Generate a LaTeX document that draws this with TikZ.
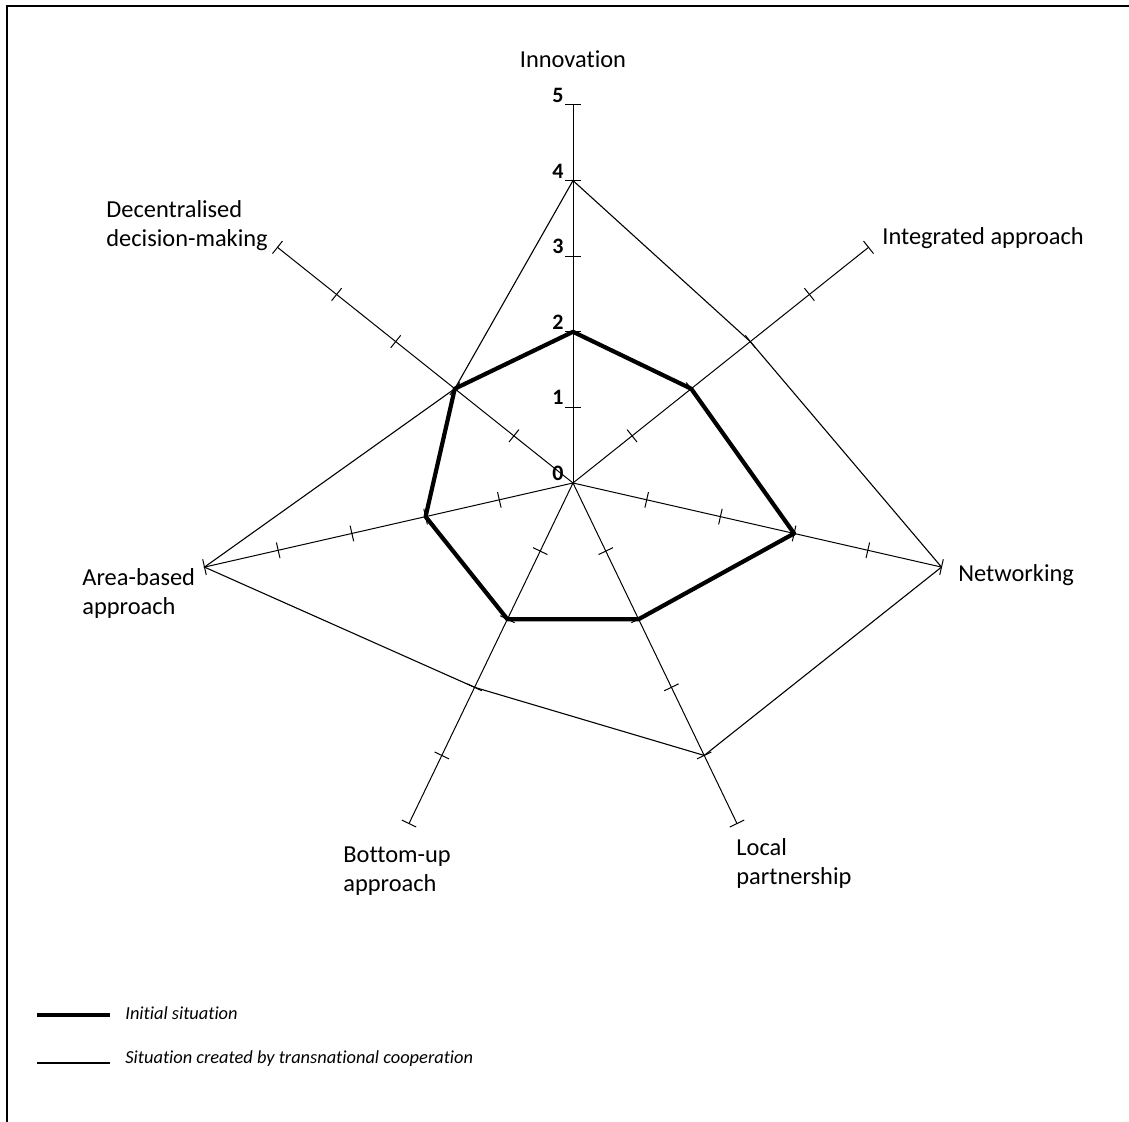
\documentclass[tikz,border=0pt]{standalone}
\usepackage{fontspec}
\setmainfont{Carlito}[Ligatures=CommonOff]
\begin{document}
\begin{tikzpicture}[x=0.5pt,y=0.5pt,
    axis/.style={line width=0.5pt},
    initial/.style={line width=2.1pt,line join=round},
    created/.style={line width=0.55pt},
    lbl/.style={font=\fontsize{12.2}{14.5}\selectfont,inner sep=0pt,align=left},
    num/.style={font=\fontsize{11}{12}\selectfont\bfseries,inner sep=0pt,anchor=south east},
    key/.style={font=\fontsize{9.2}{11}\selectfont\itshape,inner sep=0pt,anchor=west}]
  \useasboundingbox (-573,-639) rectangle (556,483);
  % frame, open at the right and bottom
  \draw[line width=0.7pt] (556,477) -| (-566,-639);
  \def\r{75.6}
  \coordinate (o) at (0,0);
  % the seven axes with their ticks
  \foreach \i [evaluate=\i as \ang using {90-(\i-1)*360/7}] in {1,...,7}{
    \coordinate (a\i) at (\ang:5*\r);
    \draw[axis] (o)--(a\i);
    \foreach \k in {1,...,5}{
      \draw[axis,rotate=\ang] (\k*\r,-8)--(\k*\r,8);
    }
  }
  \foreach \k in {0,...,5}{
    \node[num] (n\k) at (-9,\k*\r+2) {\k};
  }
  % scores
  \foreach \i/\v in {1/2,2/2,3/3,4/2,5/2,6/2,7/2}{
    \coordinate (p\i) at ({90-(\i-1)*360/7}:\v*\r);
  }
  \foreach \i/\v in {1/4,2/3,3/5,4/4,5/3,6/5,7/2}{
    \coordinate (q\i) at ({90-(\i-1)*360/7}:\v*\r);
  }
  \draw[created] (q1)--(q2)--(q3)--(q4)--(q5)--(q6)--(q7)--cycle;
  \draw[initial] (p1)--(p2)--(p3)--(p4)--(p5)--(p6)--(p7)--cycle;
  % axis labels
  \node[lbl,anchor=base] (inn) at (0,415) {Innovation};
  \node[lbl,anchor=base west] (int) at (309,238) {Integrated approach};
  \node[lbl,anchor=base west] (net) at (385,-99) {Networking};
  \node[lbl,anchor=north west] (loc) at (163,-355) {Local\\partnership};
  \node[lbl,anchor=north west] (bot) at (-230,-363) {Bottom-up\\approach};
  \node[lbl,anchor=north west] (are) at (-491,-85) {Area-based\\approach};
  \node[lbl,anchor=north west] (dec) at (-467,283) {Decentralised\\decision-making};
  % key
  \coordinate (k1a) at (-536,-532);
  \coordinate (k1b) at (-463,-532);
  \coordinate (k2a) at (-536,-580);
  \coordinate (k2b) at (-463,-580);
  \draw[initial] (k1a)--(k1b);
  \draw[line width=0.65pt] (k2a)--(k2b);
  \node[key] (k1) at (-448,-530) {Initial situation};
  \node[key] (k2) at (-448,-576) {Situation created by transnational cooperation};
\end{tikzpicture}
\end{document}
